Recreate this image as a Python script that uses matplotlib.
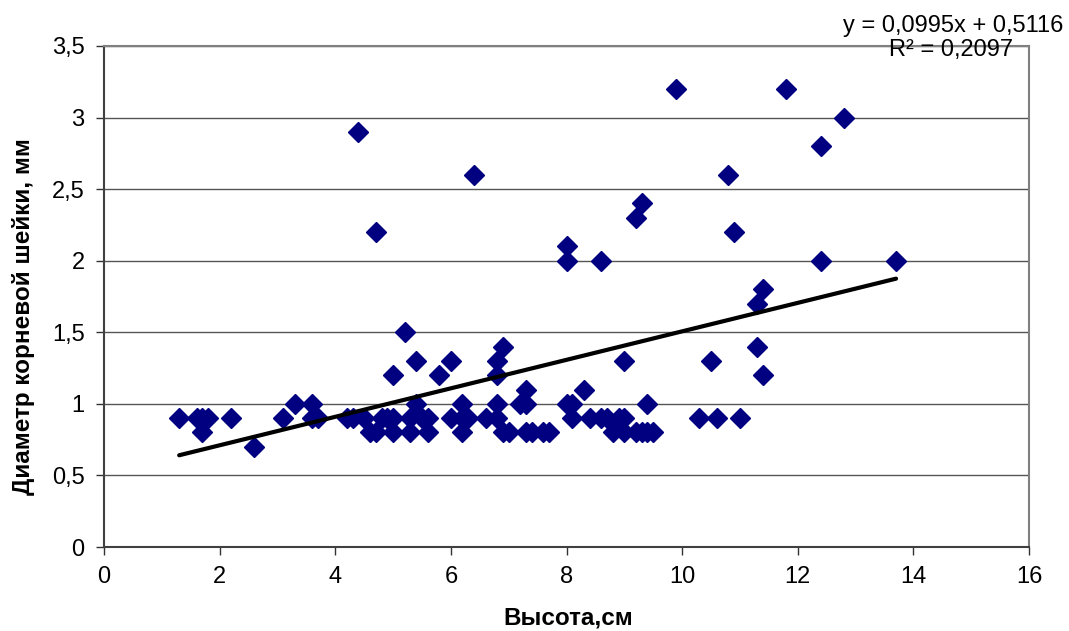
import matplotlib
matplotlib.use('Agg')
import matplotlib.pyplot as plt
from matplotlib.ticker import FuncFormatter, MultipleLocator

plt.rcParams['font.family'] = ['Liberation Sans', 'DejaVu Sans']

# высота, см
height_cm = [1.3, 1.6, 1.7, 1.8, 1.7, 2.2, 2.6, 3.1, 3.3, 3.6, 3.6, 3.7,
             4.2, 4.3, 4.4, 4.5, 4.6, 4.7, 4.7, 4.8, 4.9, 5.0, 5.0, 5.0,
             5.2, 5.3, 5.3, 5.4, 5.4, 5.5, 5.6, 5.6, 5.8, 6.0, 6.0, 6.2,
             6.2, 6.2, 6.3, 6.4, 6.6, 6.8, 6.8, 6.8, 6.8, 6.9, 6.9, 7.0,
             7.2, 7.3, 7.3, 7.3, 7.4, 7.6, 7.7, 8.0, 8.0, 8.0, 8.1, 8.1,
             8.3, 8.4, 8.6, 8.6, 8.7, 8.8, 8.9, 9.0, 9.0, 9.0, 9.2, 9.2,
             9.3, 9.3, 9.4, 9.4, 9.5, 9.9, 10.3, 10.5, 10.6, 10.8, 10.9, 11.0,
             11.3, 11.3, 11.4, 11.4, 11.8, 12.4, 12.4, 12.8, 13.7]
# диаметр корневой шейки, мм
diam_mm = [0.9, 0.9, 0.9, 0.9, 0.8, 0.9, 0.7, 0.9, 1.0, 1.0, 0.9, 0.9,
           0.9, 0.9, 2.9, 0.9, 0.8, 0.8, 2.2, 0.9, 0.9, 0.9, 0.8, 1.2,
           1.5, 0.9, 0.8, 1.3, 1.0, 0.9, 0.9, 0.8, 1.2, 1.3, 0.9, 1.0,
           0.9, 0.8, 0.9, 2.6, 0.9, 1.3, 1.2, 1.0, 0.9, 1.4, 0.8, 0.8,
           1.0, 1.1, 1.0, 0.8, 0.8, 0.8, 0.8, 2.1, 2.0, 1.0, 1.0, 0.9,
           1.1, 0.9, 2.0, 0.9, 0.9, 0.8, 0.9, 0.9, 1.3, 0.8, 2.3, 0.8,
           2.4, 0.8, 1.0, 0.8, 0.8, 3.2, 0.9, 1.3, 0.9, 2.6, 2.2, 0.9,
           1.7, 1.4, 1.8, 1.2, 3.2, 2.8, 2.0, 3.0, 2.0]

slope = 0.0995
intercept = 0.5116
r2 = 0.2097

fig = plt.figure(figsize=(10.69, 6.31), dpi=100)
ax = fig.add_axes([0.0973, 0.1331, 0.8653, 0.794])

ax.plot(height_cm, diam_mm, linestyle='none', marker='D', markersize=10,
        color='#000080', zorder=3)

x_fit = [min(height_cm), max(height_cm)]
y_fit = [slope * v + intercept for v in x_fit]
ax.plot(x_fit, y_fit, color='black', linewidth=3, solid_capstyle='round', zorder=4)

ax.set_xlim(0, 16)
ax.set_ylim(0, 3.5)
ax.xaxis.set_major_locator(MultipleLocator(2))
ax.yaxis.set_major_locator(MultipleLocator(0.5))
comma = FuncFormatter(lambda v, p: ('%g' % v).replace('.', ','))
ax.xaxis.set_major_formatter(comma)
ax.yaxis.set_major_formatter(comma)

ax.grid(axis='y', color='#555555', linewidth=1)
ax.set_axisbelow(True)
ax.tick_params(axis='both', direction='out', length=6, width=1, color='#333333',
               labelsize=17, pad=8)

for s in ['left', 'bottom']:
    ax.spines[s].set_color('#404040')
    ax.spines[s].set_linewidth(1.5)
for s in ['top', 'right']:
    ax.spines[s].set_color('#808080')
    ax.spines[s].set_linewidth(1.5)

ax.set_xlabel('Высота,см', fontsize=17.5, fontweight='bold')
ax.set_ylabel('Диаметр корневой шейки, мм', fontsize=17.5, fontweight='bold')
ax.xaxis.set_label_coords(0.502, -0.118)
ax.yaxis.set_label_coords(-0.075, 0.46)

eq = 'y = ' + ('%.4f' % slope).replace('.', ',') + 'x + ' + ('%.4f' % intercept).replace('.', ',')
fig.text(953 / 1069, 1 - 26 / 631, eq, ha='center', va='center', fontsize=17)
fig.text(951 / 1069, 1 - 50 / 631, 'R² = ' + ('%.4f' % r2).replace('.', ','),
         ha='center', va='center', fontsize=17)

fig.savefig('out.png', dpi=100)
